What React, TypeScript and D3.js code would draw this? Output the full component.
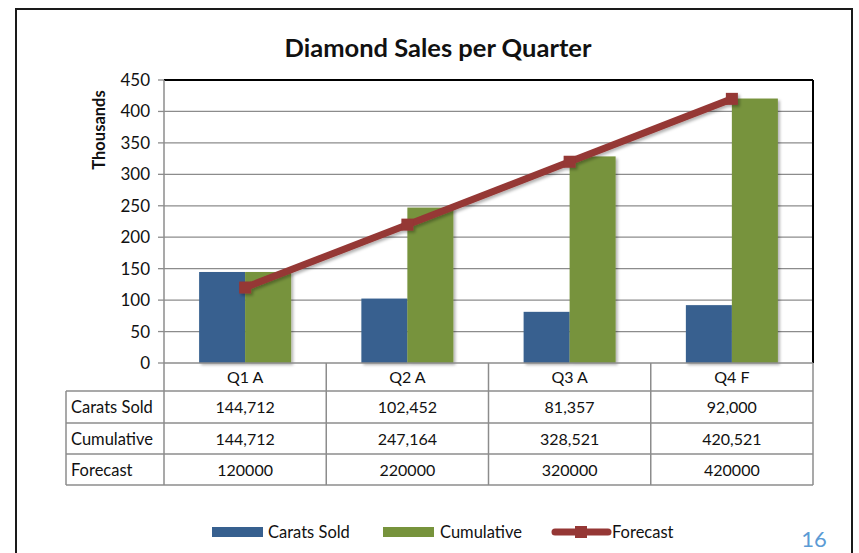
import { useEffect, useRef } from "react";
import * as d3 from "d3";

const quarters = ["Q1 A", "Q2 A", "Q3 A", "Q4 F"];
const caratsSold = [144712, 102452, 81357, 92000];
const cumulative = [144712, 247164, 328521, 420521];
const forecast = [120000, 220000, 320000, 420000];
const yTicks = [0, 50, 100, 150, 200, 250, 300, 350, 400, 450];

const rowNames = ["Carats Sold", "Cumulative", "Forecast"];
const rowLabels = [
  ["144,712", "102,452", "81,357", "92,000"],
  ["144,712", "247,164", "328,521", "420,521"],
  ["120000", "220000", "320000", "420000"],
];

const BLUE = "#37608f";
const GREEN = "#77933c";
const RED = "#953735";
const GRID = "#8c8c8c";
const FONT = "Lato, 'Open Sans', sans-serif";

export default function App() {
  const svgRef = useRef<SVGSVGElement>(null);

  useEffect(() => {
    if (!svgRef.current) return;
    const width = 859;
    const height = 553;
    const plot = { left: 164, right: 813, top: 80, bottom: 363 };

    const svg = d3.select(svgRef.current);
    svg.selectAll("*").remove();
    svg.attr("width", width).attr("height", height);

    const defs = svg.append("defs");
    const f = defs.append("filter").attr("id", "shadow").attr("x", "-20%").attr("y", "-20%").attr("width", "150%").attr("height", "150%");
    f.append("feDropShadow").attr("dx", 2).attr("dy", 2).attr("stdDeviation", 1.8).attr("flood-opacity", 0.3);

    svg.append("rect").attr("width", width).attr("height", height).attr("fill", "#fff");

    // outer frame
    svg.append("rect")
      .attr("x", 16).attr("y", 9)
      .attr("width", 836).attr("height", 560)
      .attr("fill", "none").attr("stroke", "#1a1a1a").attr("stroke-width", 2);

    const x = d3.scaleBand<string>().domain(quarters).range([plot.left, plot.right]);
    const y = d3.scaleLinear().domain([0, 450000]).range([plot.bottom, plot.top]);
    const sub = d3.scaleBand<string>().domain(["carats", "cumulative"]).range([0, 92]);

    // title
    svg.append("text")
      .attr("x", 438).attr("y", 57)
      .attr("text-anchor", "middle")
      .attr("font-family", FONT).attr("font-weight", "bold").attr("font-size", 25.5)
      .attr("fill", "#111")
      .text("Diamond Sales per Quarter");

    // y label
    svg.append("text")
      .attr("transform", `translate(105,130) rotate(-90)`)
      .attr("text-anchor", "middle")
      .attr("font-family", FONT).attr("font-weight", "bold").attr("font-size", 16.5)
      .attr("fill", "#111")
      .text("Thousands");

    // gridlines
    const g = svg.append("g");
    yTicks.forEach((t) => {
      if (t === 0 || t === 450) return;
      g.append("line")
        .attr("x1", plot.left).attr("x2", plot.right)
        .attr("y1", y(t * 1000)).attr("y2", y(t * 1000))
        .attr("stroke", GRID).attr("stroke-width", 1.3);
    });

    // y ticks and labels
    yTicks.forEach((t) => {
      g.append("line")
        .attr("x1", plot.left - 6).attr("x2", plot.left)
        .attr("y1", y(t * 1000)).attr("y2", y(t * 1000))
        .attr("stroke", GRID).attr("stroke-width", 1.3);
      g.append("text")
        .attr("x", 150).attr("y", y(t * 1000) + 6)
        .attr("text-anchor", "end")
        .attr("font-family", FONT).attr("font-size", 17)
        .attr("fill", "#111")
        .text(t);
    });

    // bars
    const bars = svg.append("g").attr("filter", "url(#shadow)");
    quarters.forEach((q, i) => {
      const c = x(q)! + x.bandwidth() / 2 - 46;
      bars.append("rect")
        .attr("x", c + sub("carats")!).attr("y", y(caratsSold[i]))
        .attr("width", sub.bandwidth()).attr("height", y(0) - y(caratsSold[i]))
        .attr("fill", BLUE);
      bars.append("rect")
        .attr("x", c + sub("cumulative")!).attr("y", y(cumulative[i]))
        .attr("width", sub.bandwidth()).attr("height", y(0) - y(cumulative[i]))
        .attr("fill", GREEN);
    });

    // plot borders
    svg.append("line")
      .attr("x1", plot.left).attr("x2", plot.right)
      .attr("y1", plot.top).attr("y2", plot.top)
      .attr("stroke", "#000").attr("stroke-width", 2);
    svg.append("line")
      .attr("x1", plot.right).attr("x2", plot.right)
      .attr("y1", plot.top).attr("y2", plot.bottom)
      .attr("stroke", "#000").attr("stroke-width", 2);
    svg.append("line")
      .attr("x1", plot.left).attr("x2", plot.left)
      .attr("y1", plot.top).attr("y2", plot.bottom)
      .attr("stroke", GRID).attr("stroke-width", 1.5);

    // forecast line
    const line = d3.line<number>()
      .x((_, i) => x(quarters[i])! + x.bandwidth() / 2)
      .y((d) => y(d));
    const fl = svg.append("g").attr("filter", "url(#shadow)");
    fl.append("path")
      .attr("d", line(forecast))
      .attr("fill", "none").attr("stroke", RED).attr("stroke-width", 7);
    forecast.forEach((v, i) => {
      fl.append("rect")
        .attr("x", x(quarters[i])! + x.bandwidth() / 2 - 6)
        .attr("y", y(v) - 6)
        .attr("width", 12).attr("height", 12)
        .attr("fill", RED);
    });

    // data table
    const rowY = [363, 391, 423, 454, 485];
    const tableLeft = 66;
    const t = svg.append("g");
    rowY.forEach((ry, i) => {
      t.append("line")
        .attr("x1", i === 0 ? plot.left : tableLeft).attr("x2", plot.right)
        .attr("y1", ry).attr("y2", ry)
        .attr("stroke", GRID).attr("stroke-width", 1.5);
    });
    t.append("line")
      .attr("x1", tableLeft).attr("x2", tableLeft)
      .attr("y1", rowY[1]).attr("y2", rowY[4])
      .attr("stroke", GRID).attr("stroke-width", 1.5);
    [...quarters.map((q) => x(q)!), plot.right].forEach((vx) => {
      t.append("line")
        .attr("x1", vx).attr("x2", vx)
        .attr("y1", rowY[0]).attr("y2", rowY[4])
        .attr("stroke", GRID).attr("stroke-width", 1.5);
    });
    quarters.forEach((q) => {
      t.append("text")
        .attr("x", x(q)! + x.bandwidth() / 2).attr("y", rowY[0] + 20)
        .attr("text-anchor", "middle")
        .attr("font-family", FONT).attr("font-size", 16).attr("fill", "#111")
        .text(q);
    });
    rowNames.forEach((name, r) => {
      const cy = (rowY[r + 1] + rowY[r + 2]) / 2 + 6;
      t.append("text")
        .attr("x", 71).attr("y", cy)
        .attr("font-family", FONT).attr("font-size", 16.5).attr("fill", "#111")
        .text(name);
      rowLabels[r].forEach((lab, i) => {
        t.append("text")
          .attr("x", x(quarters[i])! + x.bandwidth() / 2).attr("y", cy)
          .attr("text-anchor", "middle")
          .attr("font-family", FONT).attr("font-size", 16).attr("fill", "#111")
          .text(lab);
      });
    });

    // legend
    const ly = 532;
    const lg = svg.append("g").attr("font-family", FONT).attr("font-size", 16.5).attr("fill", "#111");
    lg.append("rect").attr("x", 212).attr("y", ly - 5).attr("width", 51).attr("height", 10).attr("fill", BLUE);
    lg.append("text").attr("x", 268).attr("y", ly + 6).text("Carats Sold");
    lg.append("rect").attr("x", 383).attr("y", ly - 5).attr("width", 51).attr("height", 10).attr("fill", GREEN);
    lg.append("text").attr("x", 440).attr("y", ly + 6).text("Cumulative");
    lg.append("line").attr("x1", 555).attr("x2", 608).attr("y1", ly).attr("y2", ly)
      .attr("stroke", RED).attr("stroke-width", 7).attr("stroke-linecap", "round");
    lg.append("rect").attr("x", 575).attr("y", ly - 6).attr("width", 12).attr("height", 12).attr("fill", RED);
    lg.append("text").attr("x", 612).attr("y", ly + 6).text("Forecast");

    // page number
    svg.append("text")
      .attr("x", 814).attr("y", 547)
      .attr("text-anchor", "middle")
      .attr("font-family", FONT).attr("font-size", 22)
      .attr("fill", "#5b9bd5")
      .text("16");
  }, []);

  return (
    <div style={{ position: "absolute", left: 0, top: 0 }}>
      <svg ref={svgRef} style={{ display: "block" }} />
    </div>
  );
}
